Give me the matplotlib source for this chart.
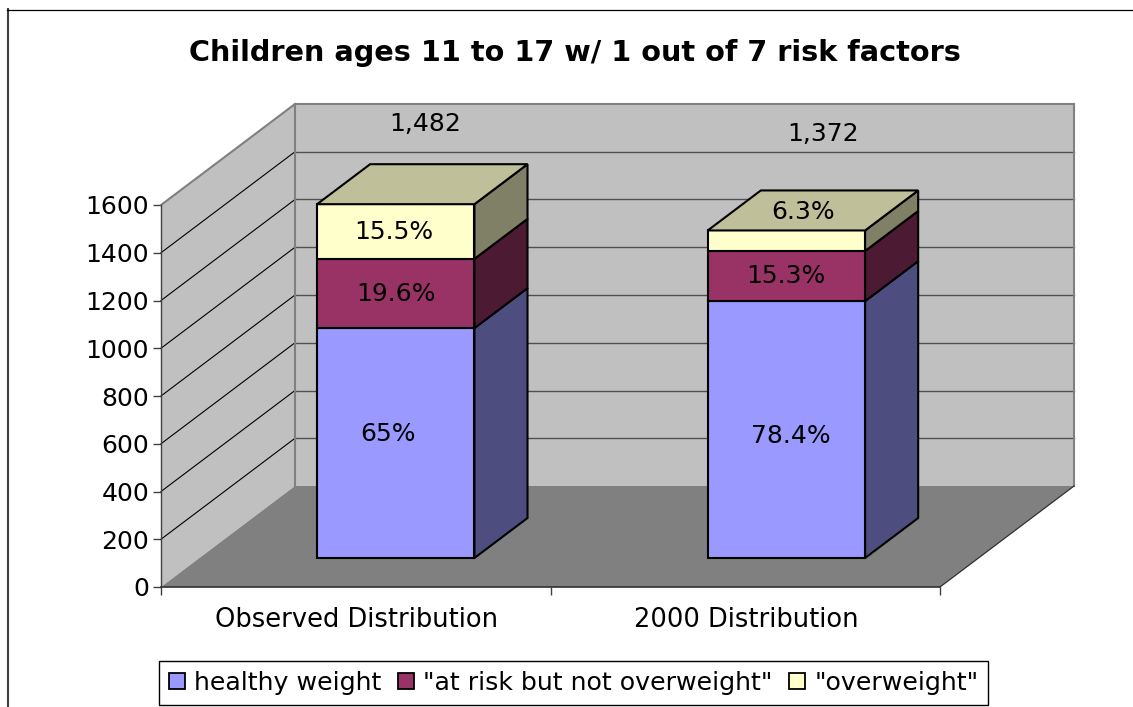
import matplotlib
matplotlib.use("Agg")
import matplotlib.pyplot as plt
from matplotlib.patches import Polygon, Rectangle
from matplotlib.lines import Line2D

plt.rcParams['font.family'] = ['DejaVu Sans']

title = "Children ages 11 to 17 w/ 1 out of 7 risk factors"
categories = ["Observed Distribution", "2000 Distribution"]
series_names = ['healthy weight', '"at risk but not overweight"', '"overweight"']
healthy = [963, 1076]
at_risk = [290, 210]
overweight = [229, 86]
segment_labels = [["65%", "78.4%"], ["19.6%", "15.3%"], ["15.5%", "6.3%"]]
total_labels = ["1,482", "1,372"]
y_ticks = [0, 200, 400, 600, 800, 1000, 1200, 1400, 1600]

front_colors = ['#9999FF', '#993366', '#FFFFCC']
side_colors = ['#4D4D80', '#4D1A33', '#808066']
top_color = '#BFBF99'

# Hand-placed label offsets in pixels (the original labels were moved by hand)
segment_offsets = [[(-8, 9), (4, -6)], [(0, -1), (-1, 0)], [(-2, 0), (17, 29)]]
total_offsets = [(-24, 40), (-16, 56)]

W, H = 1133, 707
FS = 18
fig = plt.figure(figsize=(W / 100, H / 100), dpi=100, facecolor='white')

# Front plane of the 3-D box, in pixels
left, right, base, top = 161, 940, 587, 205
ax = fig.add_axes([left / W, 1 - base / H, (right - left) / W, (base - top) / H])
ax.set_xlim(0, 2)
ax.set_ylim(0, 1600)
ax.patch.set_visible(False)
for s in ax.spines.values():
    s.set_visible(False)

UX = (right - left) / 2      # px per category
UY = (base - top) / 1600     # px per value unit
DX, DY = 134 / UX, 101 / UY  # full depth in data units


def at(x, y, d=0.0):
    """Data point at depth d (0 front .. 1 back) of the box."""
    return (x + DX * d, y + DY * d)


def poly(points, fc, ec='none', lw=0, z=1):
    ax.add_patch(Polygon(points, closed=True, fc=fc, ec=ec, lw=lw, zorder=z,
                         clip_on=False, joinstyle='miter'))


def line(p, q, color, lw, z=2):
    ax.plot(*zip(p, q), color=color, lw=lw, zorder=z, clip_on=False)


WALL, FLOOR, EDGE = '#C0C0C0', '#808080', '#808080'
ymax = y_ticks[-1]
# walls and floor
poly([at(0, 0, 1), at(2, 0, 1), at(2, ymax, 1), at(0, ymax, 1)], WALL)
poly([at(0, 0), at(0, 0, 1), at(0, ymax, 1), at(0, ymax)], WALL)
poly([at(0, 0), at(2, 0), at(2, 0, 1), at(0, 0, 1)], FLOOR, z=1.5)

# gridlines
for v in y_ticks[1:-1]:
    line(at(0, v), at(0, v, 1), 'black', 0.8)
    line(at(0, v, 1), at(2, v, 1), '#505050', 1.0)
line(at(0, ymax), at(0, ymax, 1), EDGE, 1.5)
line(at(0, 0, 1), at(0, ymax, 1), EDGE, 1.5)
line(at(0, ymax, 1), at(2, ymax, 1), EDGE, 1.5)
line(at(2, 0, 1), at(2, ymax, 1), EDGE, 1.5)
line(at(2, 0), at(2, 0, 1), '#303030', 0.9)
line(at(0, 0), at(0, ymax), '#404040', 1.0)
line(at(0, 0), at(2, 0), '#303030', 1.2)

# bars
d0, d1 = 0.287, 0.683
bar_w = 0.404
centers = [0.504, 1.507]
series = [healthy, at_risk, overweight]
for i, c in enumerate(centers):
    x0, x1 = c - bar_w / 2, c + bar_w / 2
    bottom = 0
    for j, vals in enumerate(series):
        v = vals[i]
        b, t = bottom, bottom + v
        poly([at(x0, b, d0), at(x1, b, d0), at(x1, t, d0), at(x0, t, d0)],
             front_colors[j], 'black', 1.5, 3)
        poly([at(x1, b, d0), at(x1, b, d1), at(x1, t, d1), at(x1, t, d0)],
             side_colors[j], 'black', 1.5, 3)
        ax.annotate(segment_labels[j][i], at(c, (b + t) / 2, d0),
                    xytext=segment_offsets[j][i], textcoords='offset pixels',
                    ha='center', va='center', fontsize=FS, color='black',
                    zorder=5, annotation_clip=False)
        bottom = t
    poly([at(x0, bottom, d0), at(x1, bottom, d0), at(x1, bottom, d1), at(x0, bottom, d1)],
         top_color, 'black', 1.5, 3)
    ax.annotate(total_labels[i], at(c, bottom, d1), xytext=total_offsets[i],
                textcoords='offset pixels', ha='center', va='center',
                fontsize=FS, color='black', zorder=5, annotation_clip=False)

# axis ticks
ax.set_yticks(y_ticks)
ax.set_yticklabels([str(v) for v in y_ticks], fontsize=FS)
ax.set_xticks([0, 1, 2])
ax.set_xticklabels([])
ax.tick_params(axis='y', length=5.5, width=1, color='#404040', pad=3)
ax.tick_params(axis='x', length=5.5, width=1, color='#404040')
for c, name in zip([0.5, 1.5], categories):
    ax.annotate(name, (c, 0), xytext=(1, -33), textcoords='offset pixels',
                ha='center', va='center', fontsize=18.5, annotation_clip=False)

# title and outer frame
fig.text(575 / W, 1 - 53 / H, title, ha='center', va='center',
         fontsize=20.7, fontweight='bold')
fig.add_artist(Line2D([7.5 / W, 7.5 / W], [0, 1 - 9 / H], color='#404040', lw=1.5))
fig.add_artist(Line2D([7 / W, 1], [1 - 9.5 / H, 1 - 9.5 / H], color='black', lw=0.9))

# legend
handles = [Rectangle((0, 0), 1, 1, fc=c, ec='black', lw=1.3) for c in front_colors]
leg = fig.legend(handles, series_names, loc='center', ncol=3,
                 bbox_to_anchor=(573.5 / W, 1 - 683 / H), fontsize=18.2, frameon=True,
                 fancybox=False, edgecolor='black', framealpha=1,
                 handlelength=0.64, handleheight=0.64, handletextpad=0.36,
                 columnspacing=0.65, borderpad=0.38, borderaxespad=0)
leg.get_frame().set_linewidth(1.0)

fig.savefig('out.png', dpi=100, facecolor='white')
